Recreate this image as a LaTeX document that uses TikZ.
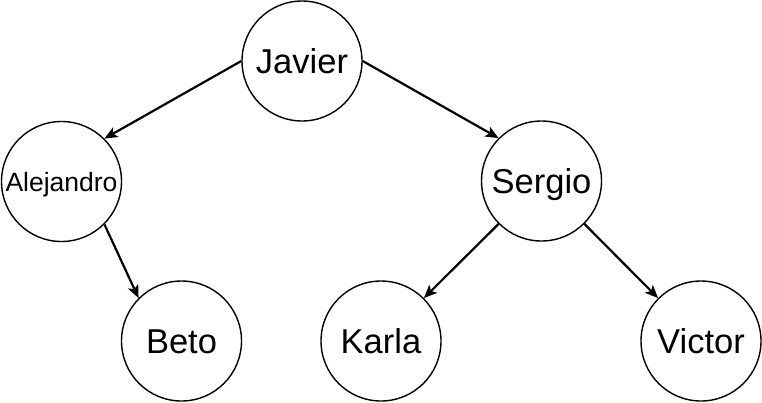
\documentclass[tikz,border=0pt]{standalone}
\usepackage{fontspec}
\setmainfont{Liberation Sans}
\usetikzlibrary{arrows.meta}
\tikzset{
  person/.style={draw, circle, line width=1.4pt, minimum size=120pt, inner sep=0pt,
    font=\fontsize{34.5}{40}\selectfont, text height=24.7pt, text depth=0pt},
  small/.style={font=\fontsize{26.5}{32}\selectfont, text height=19pt},
  link/.style={line width=2.2pt, -{Stealth[length=13pt,width=11pt,inset=3pt]}}
}
\begin{document}
\begin{tikzpicture}[x=1pt,y=-1pt]
\useasboundingbox (0,0) rectangle (762,402);
\node[person] (J) at (302,61) {\makebox[0pt]{Javier}};
\node[person,small] (A) at (61.5,181.5) {\makebox[0pt]{Alejandro}};
\node[person] (S) at (541.5,181) {\makebox[0pt]{Sergio}};
\node[person] (B) at (181.5,341) {\makebox[0pt]{Beto}};
\node[person] (K) at (381,341) {\makebox[0pt]{Karla}};
\node[person] (V) at (701,341) {\makebox[0pt]{Victor}};
\draw[link] (J.west) -- (A.45);
\draw[link] (J.east) -- (S.135);
\draw[link] (A.-45) -- (B.135);
\draw[link] (S.-135) -- (K.45);
\draw[link] (S.-45) -- (V.135);
\end{tikzpicture}
\end{document}
